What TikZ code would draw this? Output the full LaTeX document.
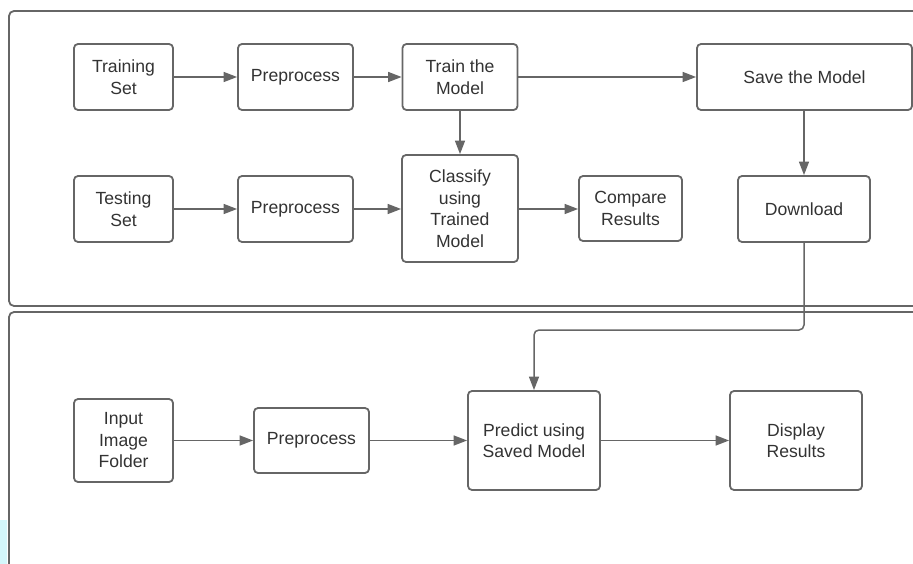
\documentclass[tikz,border=0pt]{standalone}
\usepackage{fontspec}
\setmainfont{Liberation Sans}
\usetikzlibrary{arrows.meta}
\definecolor{stroke}{HTML}{666666}
\definecolor{txt}{HTML}{333333}
\definecolor{cyanish}{HTML}{D4F7FB}
\tikzset{
  box/.style={draw=stroke, line width=1.8pt, rounded corners=4pt, fill=white,
    text=txt, align=center, inner sep=0pt,
    font=\fontsize{17.6}{21.5}\selectfont},
  conn/.style={draw=stroke, line width=1.5pt, -{Triangle[length=13.5pt,width=10pt]}},
  frame/.style={draw=stroke, line width=1.8pt, rounded corners=5pt}
}
\begin{document}
\begin{tikzpicture}[x=1pt,y=-1pt]
\useasboundingbox (0,0) rectangle (913,564);
\fill[cyanish] (0,520) rectangle (7,564);
% containers
\draw[frame] (913,11) -- (9,11) -- (9,306) -- (913,306);
\draw[frame] (913,312) -- (9,312) -- (9,564);
% nodes
\node[box, minimum width=99pt, minimum height=66pt] (train) at (123.5,77) {Training\\Set};
\node[box, minimum width=115pt, minimum height=66pt] (pre1) at (295.5,77) {Preprocess};
\node[box, minimum width=115pt, minimum height=66pt] (tm) at (460,77) {Train the\\Model};
\node[box, minimum width=215pt, minimum height=66pt] (save) at (804.5,77) {Save the Model};
\node[box, minimum width=99pt, minimum height=66pt] (test) at (123.5,209) {Testing\\Set};
\node[box, minimum width=115pt, minimum height=66pt] (pre2) at (295.5,209) {Preprocess};
\node[box, minimum width=116pt, minimum height=107pt] (cls) at (460,208.5) {Classify\\using\\Trained\\Model};
\node[box, minimum width=103pt, minimum height=65pt] (cmp) at (630.5,208.5) {Compare\\Results};
\node[box, minimum width=132pt, minimum height=66pt] (dl) at (804,209) {Download};
\node[box, minimum width=99pt, minimum height=83pt] (inp) at (123.5,440.5) {Input\\Image\\Folder};
\node[box, minimum width=115pt, minimum height=65pt] (pre3) at (311.5,440.5) {Preprocess};
\node[box, minimum width=132pt, minimum height=99pt] (pred) at (534,440.5) {Predict using\\Saved Model};
\node[box, minimum width=132pt, minimum height=99pt] (disp) at (796,440.5) {Display\\Results};
\coordinate (bend1) at (804,330);
\coordinate (bend2) at (534,330);
% connectors
\draw[conn] (train) -- (pre1);
\draw[conn] (pre1) -- (tm);
\draw[conn] (tm) -- (save);
\draw[conn] (tm) -- (cls);
\draw[conn] (save.south -| dl) -- (dl);
\draw[conn] (test) -- (pre2);
\draw[conn] (pre2) -- (cls.west |- pre2);
\draw[conn] (cls.east |- pre2) -- (cmp.west |- pre2);
\draw[conn, rounded corners=5pt] (dl.south) -- (bend1) -- (bend2) -- (pred.north);
\draw[conn] (inp) -- (pre3);
\draw[conn] (pre3) -- (pred.west |- pre3);
\draw[conn] (pred) -- (disp);
\end{tikzpicture}
\end{document}
